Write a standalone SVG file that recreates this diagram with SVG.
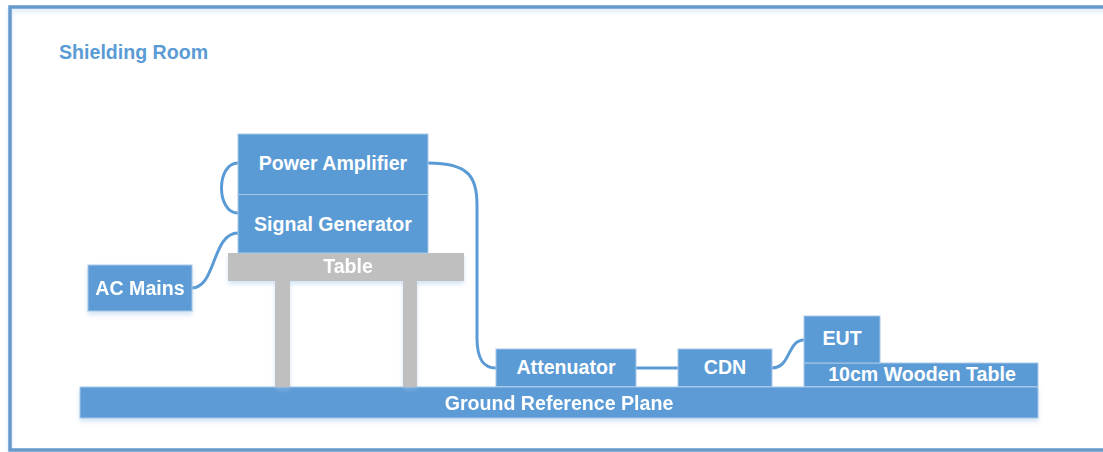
<svg xmlns="http://www.w3.org/2000/svg" width="1103" height="452" viewBox="0 0 1103 452">
  <style>
    .box { fill: #5b9bd5; stroke: #a8c8e8; stroke-width: 1; }
    .gray { fill: #bfbfbf; }
    .lbl { font-family: "Liberation Sans", Arial, sans-serif; font-weight: bold; font-size: 19.6px; fill: #ffffff; text-anchor: middle; }
    .wire { fill: none; stroke: #5b9bd5; stroke-width: 3; stroke-linecap: round; }
    .title { font-family: "Liberation Sans", Arial, sans-serif; font-weight: bold; font-size: 19.6px; fill: #5b9bd5; }
  </style>
  <defs>
    <filter id="shadow" x="-5%" y="-20%" width="110%" height="150%">
      <feGaussianBlur in="SourceAlpha" stdDeviation="2"/>
      <feOffset dx="0" dy="3" result="b"/>
      <feFlood flood-color="#9cc3e8" flood-opacity="0.45"/>
      <feComposite in2="b" operator="in"/>
      <feMerge><feMergeNode/><feMergeNode in="SourceGraphic"/></feMerge>
    </filter>
    <filter id="glow" x="-5%" y="-5%" width="110%" height="110%">
      <feGaussianBlur in="SourceAlpha" stdDeviation="2"/>
      <feOffset dx="0" dy="3" result="b"/>
      <feFlood flood-color="#bcd8f2" flood-opacity="0.6"/>
      <feComposite in2="b" operator="in"/>
      <feMerge><feMergeNode/><feMergeNode in="SourceGraphic"/></feMerge>
    </filter>
  </defs>

  <rect width="1103" height="452" fill="#ffffff"/>

  <!-- room outline -->
  <g id="room">
    <rect x="10" y="7" width="1200" height="443" fill="none" stroke="#6699cc" stroke-width="3.5" filter="url(#glow)"/>
    <text class="title" x="59" y="59">Shielding Room</text>
  </g>

  <!-- cables -->
  <g id="connectors">
    <path class="wire" d="M238,163 C216,163 216,213 238,213"/>
    <path class="wire" d="M192,288 C216,288 212,233 238,233"/>
    <path class="wire" d="M428,163 C470,163 477,178 477,205 L477,338 C477,360 484,368 496,368"/>
    <path class="wire" d="M636,368 L678,368"/>
    <path class="wire" d="M772,368 C791,368 787,340 804,340"/>
  </g>

  <g id="ground-plane" filter="url(#shadow)">
    <rect class="box" x="80" y="387" width="958" height="31"/>
    <text class="lbl" x="559" y="410">Ground Reference Plane</text>
  </g>

  <g id="table" filter="url(#shadow)">
    <rect class="gray" x="275" y="281" width="15" height="106"/>
    <rect class="gray" x="403" y="281" width="14" height="106"/>
    <rect class="gray" x="228" y="253" width="236" height="28"/>
    <text class="lbl" x="348" y="273">Table</text>
  </g>

  <g id="signal-generator">
    <rect class="box" x="238" y="194.5" width="190" height="58.5"/>
    <text class="lbl" x="333" y="231">Signal Generator</text>
  </g>

  <g id="power-amplifier">
    <rect class="box" x="238" y="134" width="190" height="60.5"/>
    <text class="lbl" x="333" y="170">Power Amplifier</text>
  </g>

  <g id="ac-mains" filter="url(#shadow)">
    <rect class="box" x="88" y="265" width="104" height="46"/>
    <text class="lbl" x="140" y="295">AC Mains</text>
  </g>

  <g id="attenuator">
    <rect class="box" x="496" y="349" width="140" height="37.5"/>
    <text class="lbl" x="566" y="374">Attenuator</text>
  </g>

  <g id="cdn">
    <rect class="box" x="678" y="349" width="94" height="37.5"/>
    <text class="lbl" x="725" y="374">CDN</text>
  </g>

  <g id="wooden-table">
    <rect class="box" x="804" y="363" width="234" height="23.5"/>
    <text class="lbl" x="922" y="381">10cm Wooden Table</text>
  </g>

  <g id="eut">
    <rect class="box" x="804" y="316" width="76" height="47"/>
    <text class="lbl" x="842" y="345">EUT</text>
  </g>
</svg>
